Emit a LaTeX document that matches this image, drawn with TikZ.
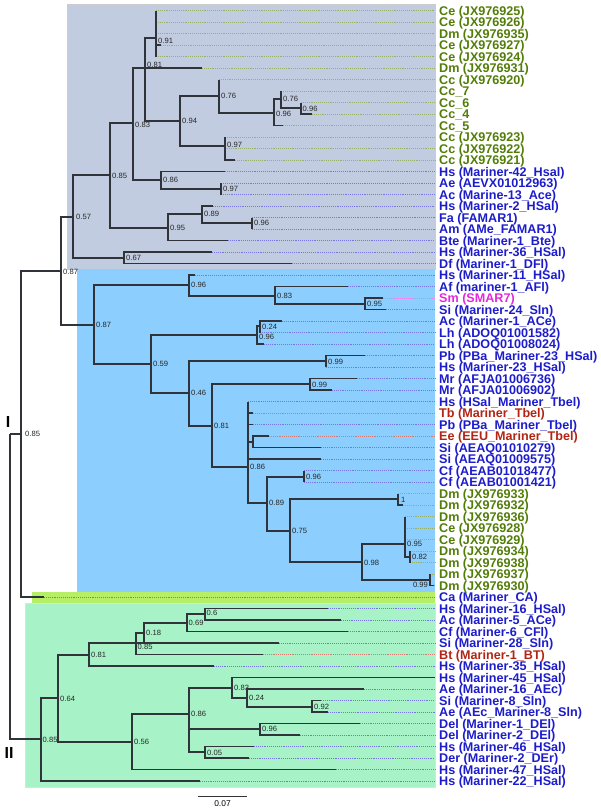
\documentclass[tikz,border=0pt]{standalone}
\usepackage{fontspec}
\setmainfont{Liberation Sans}
\definecolor{cg}{RGB}{82,125,8}
\definecolor{cb}{RGB}{28,28,205}
\definecolor{cm}{RGB}{228,40,220}
\definecolor{cr}{RGB}{178,36,20}
\definecolor{boxgrey}{RGB}{194,204,224}
\definecolor{boxblue}{RGB}{140,206,254}
\definecolor{boxlime}{RGB}{182,238,102}
\definecolor{boxmint}{RGB}{168,242,200}
\definecolor{treeline}{RGB}{48,52,58}
\tikzset{
 br/.style={draw=treeline, line width=1.1pt},
 dotl/.style={line width=0.6pt, dash pattern=on 0.6pt off 1.3pt},
 leaflab/.style={font=\bfseries\fontsize{12.6}{12.6}\selectfont, inner sep=0pt, anchor=base west},
 nlab/.style={font=\fontsize{7.6}{7.6}\selectfont, inner sep=0pt, anchor=west, text=black!85},
 cladelab/.style={font=\bfseries\fontsize{16}{16}\selectfont, inner sep=0pt}
}
% leaf: id, branch end x, row y, colour, text
\newcommand\lf[5]{%
 \coordinate (L#1) at (#2,#3);
 \coordinate (E#1) at (435,#3);
 \draw[dotl, #4!60!white] (L#1) -- (E#1);
 \node[leaflab, text=#4] (T#1) at (439,{#3+4.6}) {#5};
}
% internal node: name, x, y, label x, label y, text
\newcommand\inn[6]{%
 \coordinate (#1) at (#2,#3);
 \node[nlab] (#1lab) at (#4,#5) {#6};
}
\begin{document}
\begin{tikzpicture}[x=1pt,y=-1pt]
\useasboundingbox (0,0) rectangle (600,811);
% background boxes
\fill[boxgrey] (67,4.5) rectangle (435,269);
\draw[black!20, line width=0.5pt] (67,4.5) rectangle (435,269);
\fill[boxblue] (77,269) rectangle (435,592);
\fill[boxlime] (32,592) rectangle (435,603);
\fill[boxmint] (25,603) rectangle (435,787);
\draw[black!12, line width=0.5pt] (25,603) rectangle (435,787);

% leaves
\lf{1}{156}{10.5}{cg}{Ce (JX976925)}
\lf{2}{156}{22}{cg}{Ce (JX976926)}
\lf{3}{156}{33.5}{cg}{Dm (JX976935)}
\lf{4}{161}{45}{cg}{Ce (JX976927)}
\lf{5}{156}{56.5}{cg}{Ce (JX976924)}
\lf{6}{202}{68}{cg}{Dm (JX976931)}
\lf{7}{219}{79.5}{cg}{Cc (JX976920)}
\lf{8}{281}{91}{cg}{Cc\_7}
\lf{9}{301}{102.5}{cg}{Cc\_6}
\lf{10}{312}{114}{cg}{Cc\_4}
\lf{11}{283}{125.5}{cg}{Cc\_5}
\lf{12}{225}{137}{cg}{Cc (JX976923)}
\lf{13}{225}{148.5}{cg}{Cc (JX976922)}
\lf{14}{235}{160}{cg}{Cc (JX976921)}
\lf{15}{225}{171.5}{cb}{Hs (Mariner-42\_Hsal)}
\lf{16}{221}{183}{cb}{Ae (AEVX01012963)}
\lf{17}{221}{194.5}{cb}{Ac (Marine-13\_Ace)}
\lf{18}{213}{206}{cb}{Hs (Mariner-2\_HSal)}
\lf{19}{252}{217.5}{cb}{Fa (FAMAR1)}
\lf{20}{252}{229}{cb}{Am (AMe\_FAMAR1)}
\lf{21}{228}{240.5}{cb}{Bte (Mariner-1\_Bte)}
\lf{22}{212}{252}{cb}{Hs (Mariner-36\_HSal)}
\lf{23}{292}{263.5}{cb}{Df (Mariner-1\_DFl)}
\lf{24}{195}{275}{cb}{Hs (Mariner-11\_HSal)}
\lf{25}{348}{286.5}{cb}{Af (mariner-1\_AFl)}
\lf{26}{383}{298}{cm}{Sm (SMAR7)}
\lf{27}{386}{309.5}{cb}{Si (Mariner-24\_Sln)}
\lf{28}{282}{321}{cb}{Ac (Mariner-1\_ACe)}
\lf{29}{260}{332.5}{cb}{Lh (ADOQ01001582)}
\lf{30}{264}{344}{cb}{Lh (ADOQ01008024)}
\lf{31}{365}{355.5}{cb}{Pb (PBa\_Mariner-23\_HSal)}
\lf{32}{326}{367}{cb}{Hs (Mariner-23\_HSal)}
\lf{33}{357}{378.5}{cb}{Mr (AFJA01006736)}
\lf{34}{332}{390}{cb}{Mr (AFJA01006902)}
\lf{35}{248}{401.5}{cb}{Hs (HSal\_Mariner\_Tbel)}
\lf{36}{253}{413}{cr}{Tb (Mariner\_Tbel)}
\lf{37}{253}{424.5}{cb}{Pb (PBa\_Mariner\_Tbel)}
\lf{38}{269}{436}{cr}{Ee (EEU\_Mariner\_Tbel)}
\lf{39}{321}{447.5}{cb}{Si (AEAQ01010279)}
\lf{40}{321}{459}{cb}{Si (AEAQ01009575)}
\lf{41}{304}{470.5}{cb}{Cf (AEAB01018477)}
\lf{42}{304}{482}{cb}{Cf (AEAB01001421)}
\lf{43}{398}{493.5}{cg}{Dm (JX976933)}
\lf{44}{403}{505}{cg}{Dm (JX976932)}
\lf{45}{405}{516.5}{cg}{Dm (JX976936)}
\lf{46}{405}{528}{cg}{Ce (JX976928)}
\lf{47}{405}{539.5}{cg}{Ce (JX976929)}
\lf{48}{410}{551}{cg}{Dm (JX976934)}
\lf{49}{410}{562.5}{cg}{Dm (JX976938)}
\lf{50}{430}{574}{cg}{Dm (JX976937)}
\lf{51}{434}{585.5}{cg}{Dm (JX976930)}
\lf{52}{44}{597}{cb}{Ca (Mariner\_CA)}
\lf{53}{328}{608.5}{cb}{Hs (Mariner-16\_HSal)}
\lf{54}{341}{620}{cb}{Ac (Mariner-5\_ACe)}
\lf{55}{348}{631.5}{cb}{Cf (Mariner-6\_CFl)}
\lf{56}{279}{643}{cb}{Si (Mariner-28\_Sln)}
\lf{57}{263}{654.5}{cr}{Bt (Mariner-1\_BT)}
\lf{58}{214}{666}{cb}{Hs (Mariner-35\_HSal)}
\lf{59}{435}{677.5}{cb}{Hs (Mariner-45\_HSal)}
\lf{60}{364}{689}{cb}{Ae (Mariner-16\_AEc)}
\lf{61}{321}{700.5}{cb}{Si (Mariner-8\_Sln)}
\lf{62}{328}{712}{cb}{Ae (AEc\_Mariner-8\_Sln)}
\lf{63}{360}{723.5}{cb}{Del (Mariner-1\_DEl)}
\lf{64}{300}{735}{cb}{Del (Mariner-2\_DEl)}
\lf{65}{254}{746.5}{cb}{Hs (Mariner-46\_HSal)}
\lf{66}{249}{758}{cb}{Der (Mariner-2\_DEr)}
\lf{67}{336}{769.5}{cb}{Hs (Mariner-47\_HSal)}
\lf{68}{200}{781}{cb}{Hs (Mariner-22\_HSal)}

% internal nodes
\coordinate (R) at (10,434);
\inn{C}{21}{434}{25}{434}{0.85}
\inn{A}{61}{271}{63}{272}{0.87}
\inn{G0}{73}{217}{76}{217}{0.57}
\inn{G1}{110}{175}{112}{176}{0.85}
\inn{G2}{133}{123}{135}{125}{0.83}
\inn{G3}{145}{68}{147}{65}{0.81}
\inn{G4}{156}{38}{158}{41}{0.91}
\inn{G5}{180}{121}{182}{121}{0.94}
\inn{G6a}{219}{96}{221}{96}{0.76}
\inn{G6c}{274}{113}{276}{114}{0.96}
\inn{G6d}{281}{99}{283}{99}{0.76}
\inn{G6e}{301}{108}{302.5}{109}{0.96}
\inn{G6b}{225}{146}{227}{145}{0.97}
\inn{G7}{161}{180}{163}{180}{0.86}
\inn{G7b}{221}{189}{223}{189}{0.97}
\inn{G8}{168}{228}{170}{228}{0.95}
\inn{G8a}{202}{214}{204}{214}{0.89}
\inn{G8b}{252}{223}{254}{223}{0.96}
\inn{G9}{124}{258}{126}{258}{0.67}
\inn{B}{94}{325}{96}{325}{0.87}
\inn{B1}{189}{285}{191}{285}{0.96}
\inn{B1a}{275}{296}{277}{296}{0.83}
\inn{B1b}{365}{304}{367}{304}{0.95}
\inn{B2}{151}{364}{153}{364}{0.59}
\inn{B2a}{257}{335}{259}{337}{0.96}
\inn{B2c}{260}{326}{262}{327}{0.24}
\inn{B2b}{189}{393}{191}{393}{0.46}
\inn{B3}{326}{361}{328}{362}{0.99}
\inn{B4}{212}{426}{214}{426}{0.81}
\inn{B5}{310}{384}{312}{385}{0.99}
\inn{B6}{248}{467}{250}{467}{0.86}
\inn{B6a}{253}{442}{0}{0}{}
\inn{B8}{267}{503}{269}{503}{0.89}
\inn{B7}{304}{477}{306}{477}{0.96}
\inn{B9}{290}{531}{292}{531}{0.75}
\inn{B10}{398}{499}{401}{500}{1}
\inn{B11}{362}{562}{364}{563}{0.98}
\inn{B12}{405}{544}{407}{544}{0.95}
\inn{B12a}{410}{557}{412}{557}{0.82}
\coordinate (B13) at (430,580);
\node[nlab, anchor=east] (B13lab) at (428,585) {0.99};
\inn{D}{41}{739}{42.5}{740}{0.85}
\inn{D1}{58}{698}{60}{699}{0.64}
\inn{D2}{89}{655}{91}{655}{0.81}
\inn{D3}{136}{643}{137.5}{647}{0.85}
\inn{D4}{144}{633}{146}{633}{0.18}
\inn{D4a}{187}{623}{188.5}{623}{0.69}
\inn{D4b}{205}{614}{206.5}{613}{0.6}
\inn{D5}{132}{742}{134}{742}{0.56}
\inn{D6}{189}{714}{191}{714}{0.86}
\inn{D7}{232}{688}{234}{688}{0.83}
\inn{D7a}{247}{698}{249}{698}{0.24}
\inn{D7b}{312}{707}{314}{707}{0.92}
\inn{D8}{260}{729}{262}{729}{0.96}
\inn{D9}{205}{752}{207}{753}{0.05}

% branches
\begin{scope}[br]
\draw (R) |- (C); \draw (R) |- (D);
\draw (C) |- (A); \draw (C) |- (L52);
\draw (A) |- (G0); \draw (A) |- (B);
\draw (G0) |- (G1); \draw (G0) |- (G9);
\draw (G1) |- (G2); \draw (G1) |- (G8);
\draw (G2) |- (G3); \draw (G2) |- (G7);
\draw (G3) |- (G4); \draw (G3) |- (L6); \draw (G3) |- (G5);
\draw (G4) |- (L1); \draw (G4) |- (L2); \draw (G4) |- (L3); \draw (G4) |- (L4); \draw (G4) |- (L5);
\draw (G5) |- (G6a); \draw (G5) |- (G6b);
\draw (G6a) |- (L7); \draw (G6a) |- (G6c);
\draw (G6c) |- (G6d); \draw (G6c) |- (L11);
\draw (G6d) |- (L8); \draw (G6d) |- (G6e);
\draw (G6e) |- (L9); \draw (G6e) |- (L10);
\draw (G6b) |- (L12); \draw (G6b) |- (L13); \draw (G6b) |- (L14);
\draw (G7) |- (L15); \draw (G7) |- (G7b);
\draw (G7b) |- (L16); \draw (G7b) |- (L17);
\draw (G8) |- (G8a); \draw (G8) |- (L21);
\draw (G8a) |- (L18); \draw (G8a) |- (G8b);
\draw (G8b) |- (L19); \draw (G8b) |- (L20);
\draw (G9) |- (L22); \draw (G9) |- (L23);
\draw (B) |- (B1); \draw (B) |- (B2);
\draw (B1) |- (L24); \draw (B1) |- (B1a);
\draw (B1a) |- (L25); \draw (B1a) |- (B1b);
\draw (B1b) |- (L26); \draw (B1b) |- (L27);
\draw (B2) |- (B2a); \draw (B2) |- (B2b);
\draw (B2a) |- (B2c); \draw (B2a) |- (L30);
\draw (B2c) |- (L28); \draw (B2c) |- (L29);
\draw (B2b) |- (B3); \draw (B2b) |- (B4);
\draw (B3) |- (L31); \draw (B3) |- (L32);
\draw (B4) |- (B5); \draw (B4) |- (B6);
\draw (B5) |- (L33); \draw (B5) |- (L34);
\draw (B6) |- (L35); \draw (B6) |- (L36); \draw (B6) |- (L37);
\draw (B6) |- (B6a); \draw (B6) |- (L40); \draw (B6) |- (B8);
\draw (B6a) |- (L38); \draw (B6a) |- (L39);
\draw (B8) |- (B7); \draw (B8) |- (B9);
\draw (B7) |- (L41); \draw (B7) |- (L42);
\draw (B9) |- (B10); \draw (B9) |- (B11);
\draw (B10) |- (L43); \draw (B10) |- (L44);
\draw (B11) |- (B12); \draw (B11) |- (B13);
\draw (B12) |- (L45); \draw (B12) |- (L46); \draw (B12) |- (L47); \draw (B12) |- (B12a);
\draw (B12a) |- (L48); \draw (B12a) |- (L49);
\draw (B13) |- (L50); \draw (B13) |- (L51);
\draw (D) |- (D1); \draw (D) |- (L68);
\draw (D1) |- (D2); \draw (D1) |- (D5);
\draw (D2) |- (D3); \draw (D2) |- (L58);
\draw (D3) |- (D4); \draw (D3) |- (L57); \draw (D3) -- (D4 |- D3);
\draw (D4) |- (D4a); \draw (D4) |- (L56);
\draw (D4a) |- (D4b); \draw (D4a) |- (L55);
\draw (D4b) |- (L53); \draw (D4b) |- (L54);
\draw (D5) |- (D6); \draw (D5) |- (L67);
\draw (D6) |- (D7); \draw (D6) |- (D8); \draw (D6) |- (D9);
\draw (D7) |- (L59); \draw (D7) |- (D7a);
\draw (D7a) |- (L60); \draw (D7a) |- (D7b);
\draw (D7b) |- (L61); \draw (D7b) |- (L62);
\draw (D8) |- (L63); \draw (D8) |- (L64);
\draw (D9) |- (L65); \draw (D9) |- (L66);
\end{scope}

% clade labels
\node[cladelab] (cI) at (8,422) {I};
\node[cladelab] (cII) at (9,753) {II};

% scale bar
\coordinate (s1) at (198,796);
\coordinate (s2) at (247,796);
\draw[treeline, line width=1pt] (s1) -- (s2);
\node[font=\fontsize{8.4}{8.4}\selectfont, inner sep=0pt] (sbl) at (222.5,804) {0.07};
\end{tikzpicture}
\end{document}
